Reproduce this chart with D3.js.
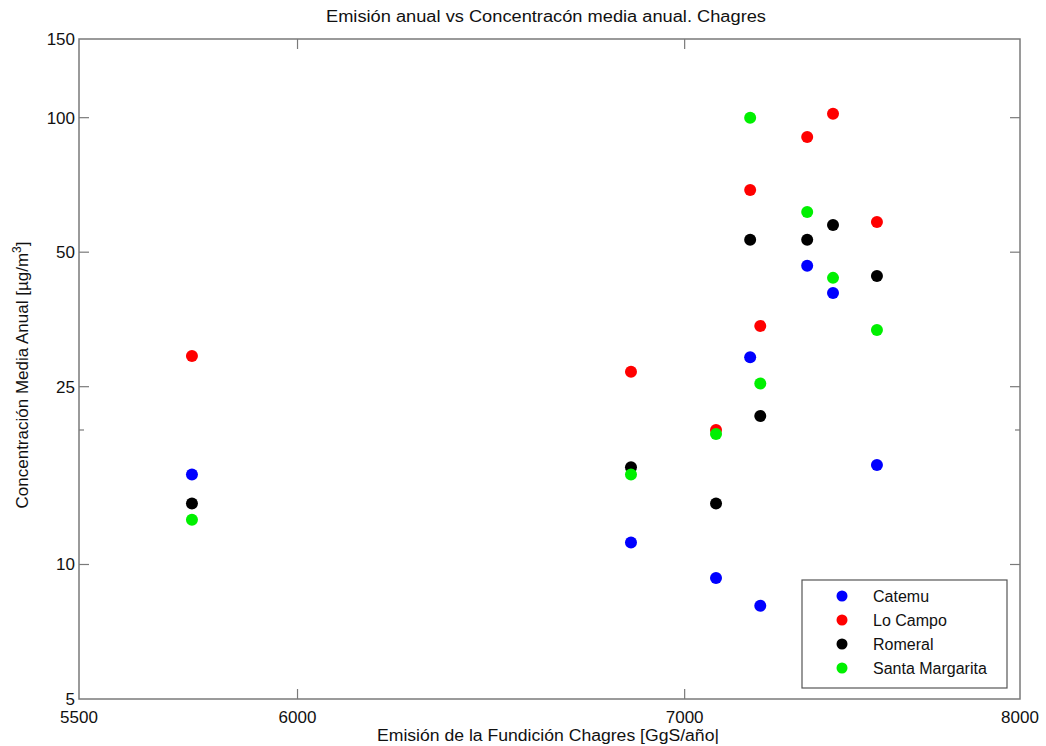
<!DOCTYPE html>
<html>
<head>
<meta charset="utf-8">
<script src="https://cdn.jsdelivr.net/npm/d3@7"></script>
<style>
  body { margin: 0; background: #fff; }
  svg text { font-family: "Liberation Sans", Arial, sans-serif; fill: #111; }
</style>
</head>
<body>
<svg id="chart" width="1046" height="746"></svg>
<script>
// emission of the smelter per year (x) and annual mean concentration per station (y)
const emision = [5753, 6852, 7088, 7185, 7214, 7350, 7426, 7557];
const catemu = [15.9, 11.2, 9.33, 29.1, 8.08, 46.6, 40.5, 16.7];
const loCampo = [29.3, 27.0, 20.0, 68.9, 34.2, 90.5, 102, 58.4];
const romeral = [13.7, 16.5, 13.7, 53.3, 21.5, 53.3, 57.5, 44.2];
const santaMargarita = [12.6, 15.9, 19.6, 100, 25.4, 61.5, 43.8, 33.5];

const seriesNames = ["Catemu", "Lo Campo", "Romeral", "Santa Margarita"];
const seriesColors = ["#0000ff", "#ff0000", "#000000", "#00f000"];
const seriesValues = [catemu, loCampo, romeral, santaMargarita];

const xTicks = [5500, 6000, 7000, 8000];
const yTicks = [5, 10, 25, 50, 100, 150];
const yMinorTicks = [20];

const margin = { left: 79, right: 26, top: 39, bottom: 47 };
const width = 1046 - margin.left - margin.right;
const height = 746 - margin.top - margin.bottom;

const svg = d3.select("#chart");
const g = svg.append("g")
  .attr("transform", "translate(" + margin.left + "," + margin.top + ")");

const x = d3.scaleLog().domain([5500, 8000]).range([0, width]);
const y = d3.scaleLog().domain([5, 150]).range([height, 0]);

const axisColor = "#7a7a7a";
const tickLen = 10;

// frame
g.append("rect")
  .attr("width", width)
  .attr("height", height)
  .attr("fill", "none")
  .attr("stroke", axisColor)
  .attr("stroke-width", 1.5);

// inward ticks on all four sides
const innerX = xTicks.filter(d => d > 5500 && d < 8000);
const innerY = yTicks.filter(d => d > 5 && d < 150);

const ticks = g.append("g").attr("stroke", axisColor).attr("stroke-width", 1.2);
innerX.forEach(d => {
  ticks.append("line").attr("x1", x(d)).attr("x2", x(d)).attr("y1", height).attr("y2", height - tickLen);
  ticks.append("line").attr("x1", x(d)).attr("x2", x(d)).attr("y1", 0).attr("y2", tickLen);
});
innerY.forEach(d => {
  ticks.append("line").attr("x1", 0).attr("x2", tickLen).attr("y1", y(d)).attr("y2", y(d));
  ticks.append("line").attr("x1", width).attr("x2", width - tickLen).attr("y1", y(d)).attr("y2", y(d));
});
yMinorTicks.forEach(d => {
  ticks.append("line").attr("x1", 0).attr("x2", 5).attr("y1", y(d)).attr("y2", y(d));
  ticks.append("line").attr("x1", width).attr("x2", width - 5).attr("y1", y(d)).attr("y2", y(d));
});

// tick labels
g.append("g").selectAll("text")
  .data(xTicks)
  .join("text")
  .attr("x", d => x(d))
  .attr("y", height + 24)
  .attr("text-anchor", "middle")
  .style("font-size", "17px")
  .text(d => d);

g.append("g").selectAll("text")
  .data(yTicks)
  .join("text")
  .attr("x", -4)
  .attr("y", d => y(d) + 6)
  .attr("text-anchor", "end")
  .style("font-size", "17px")
  .text(d => d);

// titles
svg.append("text")
  .attr("x", 546)
  .attr("y", 22)
  .attr("text-anchor", "middle")
  .attr("textLength", 440)
  .attr("lengthAdjust", "spacingAndGlyphs")
  .style("font-size", "16px")
  .text("Emisión anual vs Concentracón media anual. Chagres");

svg.append("text")
  .attr("x", 548)
  .attr("y", 741)
  .attr("text-anchor", "middle")
  .attr("textLength", 342)
  .attr("lengthAdjust", "spacingAndGlyphs")
  .style("font-size", "16px")
  .text("Emisión de la Fundición Chagres [GgS/año|");

const yLabel = svg.append("text")
  .attr("transform", "translate(28,375) rotate(-90)")
  .attr("text-anchor", "middle")
  .style("font-size", "17px");
yLabel.append("tspan").text("Concentración Media Anual [µg/m");
yLabel.append("tspan").attr("dy", -7).style("font-size", "12px").text("3");
yLabel.append("tspan").attr("dy", 7).text("]");

// points, series in order so later ones sit on top
seriesValues.forEach((vals, i) => {
  g.append("g").selectAll("circle")
    .data(vals.map((v, j) => ({ x: emision[j], y: v })))
    .join("circle")
    .attr("cx", d => x(d.x))
    .attr("cy", d => y(d.y))
    .attr("r", 6)
    .attr("fill", seriesColors[i]);
});

// legend
const legend = svg.append("g").attr("transform", "translate(802,580)");
legend.append("rect")
  .attr("width", 205)
  .attr("height", 108)
  .attr("fill", "#fff")
  .attr("stroke", "#555")
  .attr("stroke-width", 1.2);
seriesNames.forEach((name, i) => {
  const row = legend.append("g").attr("transform", "translate(0," + (16 + i * 24) + ")");
  row.append("circle").attr("cx", 40).attr("cy", 0).attr("r", 5.5).attr("fill", seriesColors[i]);
  row.append("text").attr("x", 71).attr("y", 6).style("font-size", "16px").text(name);
});
</script>
</body>
</html>
